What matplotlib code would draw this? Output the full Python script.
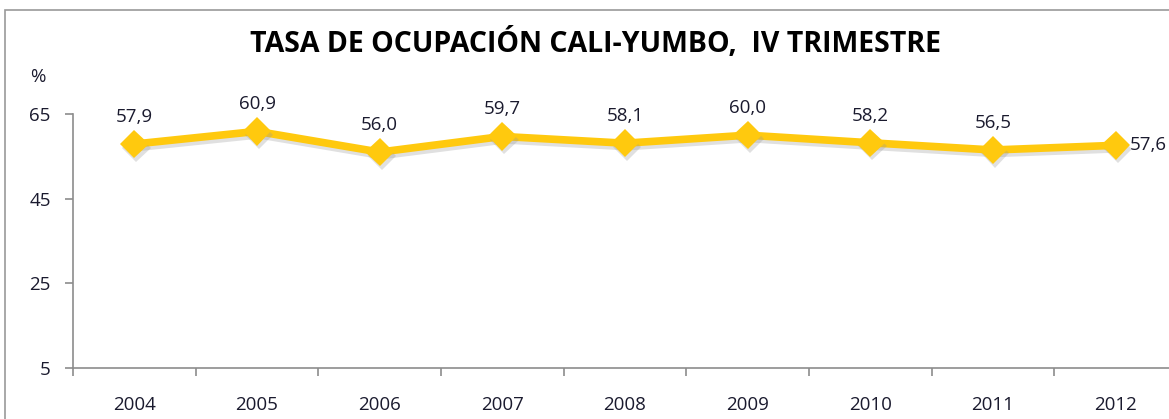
import matplotlib
matplotlib.use("Agg")
import matplotlib.pyplot as plt
from matplotlib.patches import Rectangle
import matplotlib.patheffects as pe

years = ["2004", "2005", "2006", "2007", "2008", "2009", "2010", "2011", "2012"]
values = [57.9, 60.9, 56.0, 59.7, 58.1, 60.0, 58.2, 56.5, 57.6]
value_labels = ["57,9", "60,9", "56,0", "59,7", "58,1", "60,0", "58,2", "56,5", "57,6"]
yticks = [5, 25, 45, 65]
title = "TASA DE OCUPACIÓN CALI-YUMBO,  IV TRIMESTRE"

W, H = 1169, 419
fig = plt.figure(figsize=(W / 100, H / 100), dpi=100)
fig.patch.set_facecolor("white")

font = ["Open Sans", "DejaVu Sans"]
txt_color = "#1a1a2e"
gray = "#8c8c8c"
fs = 13.5

# outer chart frame (cropped on right/bottom)
fig.patches.append(Rectangle((5 / W, -0.1), 1.2, (H - 10) / H + 0.1,
                             transform=fig.transFigure, fill=False,
                             edgecolor="#9a9a9a", linewidth=1.2))

# axes position in pixels: left 73, right 1177, top 114, bottom 368
left, right, top, bottom = 73, 1177, 114, 368
ax = fig.add_axes([left / W, 1 - bottom / H, (right - left) / W, (bottom - top) / H])
ax.set_facecolor("none")

x = list(range(len(years)))
ax.plot(x, values, color="#FFC90E", linewidth=5.5, solid_joinstyle="miter", clip_on=False,
        path_effects=[pe.SimpleLineShadow(offset=(1.5, -2.5), shadow_color="#999999", alpha=0.3),
                      pe.Normal()])
ax.plot(x, values, linestyle="none", color="#FFC90E", marker="D", markersize=14.5,
        markeredgewidth=0, clip_on=False,
        path_effects=[pe.SimplePatchShadow(offset=(1.5, -2.5), shadow_rgbFace="#999999", alpha=0.3),
                      pe.Normal()])

for i, (v, lab) in enumerate(zip(values, value_labels)):
    if i == len(values) - 1:
        ax.annotate(lab, (i, v), xytext=(10.5, 0), textcoords="offset points",
                    ha="left", va="center", fontsize=fs, color=txt_color, family=font,
                    annotation_clip=False)
    else:
        ax.annotate(lab, (i, v), xytext=(0, 19.5), textcoords="offset points",
                    ha="center", va="center", fontsize=fs, color=txt_color, family=font,
                    annotation_clip=False)

ax.set_xlim(-0.5, len(years) - 0.5)
ax.set_ylim(5, 65)
ax.set_yticks(yticks)
ax.set_yticklabels([str(t) for t in yticks], fontsize=fs, color=txt_color, family=font)
ax.set_xticks([i + 0.5 for i in range(-1, len(years))], minor=False)
ax.set_xticklabels([""] * (len(years) + 1))
ax.set_xticks(x, minor=True)
ax.set_xticklabels(years, minor=True, fontsize=fs, color=txt_color, family=font)
ax.tick_params(axis="x", which="minor", length=0, pad=20)
ax.tick_params(axis="x", which="major", length=6, width=1.2, color=gray, direction="out")
ax.tick_params(axis="y", length=6, width=1.2, color=gray, direction="out", pad=10)

for s in ["top", "right"]:
    ax.spines[s].set_visible(False)
for s in ["left", "bottom"]:
    ax.spines[s].set_color(gray)
    ax.spines[s].set_linewidth(1.2)

fig.text(38 / W, 1 - 77 / H, "%", fontsize=fs, color=txt_color, family=font,
         ha="center", va="center")

t = fig.text(596 / W, 1 - 44 / H, title, fontsize=20, fontweight="bold",
             color="black", family=font, ha="center", va="center")
fig.canvas.draw()
bb = t.get_window_extent()
t.set_fontsize(20 * 695 / bb.width)

fig.savefig("out.png", dpi=100)
